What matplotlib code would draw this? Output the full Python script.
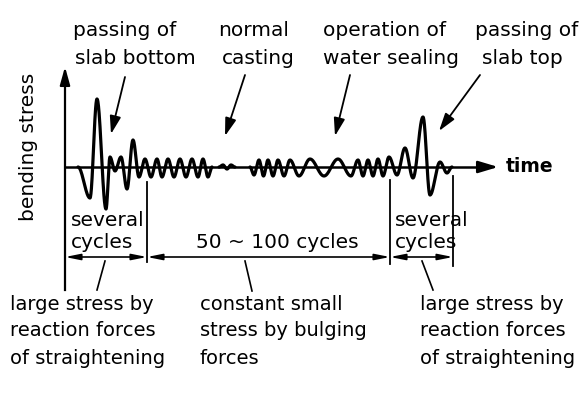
import numpy as np
import matplotlib
matplotlib.use("Agg")
import matplotlib.pyplot as plt

# ---------------- data (pixel-space schematic) ----------------
baseline_y = 167
# segment 1: passing of slab bottom + normal casting (extrema x, amplitude up)
seg1_x = [78, 90, 97, 106, 110, 115, 121, 127, 133, 139, 145, 151, 157, 162, 168,
          174, 180, 186, 192, 198, 203, 208, 212]
seg1_a = [0, -31, 68, -42, 10, -4, 10, -22, 27, -10, 8, -10, 8, -10, 8,
          -10, 8, -10, 8, -10, 8, -10, 0]
# break mark
brk_x = [219, 223, 227, 231, 235]
brk_a = [0, 2, -2, 2, 0]
# segment 2: normal casting, water sealing, passing of slab top
seg2_x = [250, 254, 259, 263.5, 268, 273, 278, 284, 290, 299, 310, 324, 338, 351,
          358, 363, 368, 373, 378, 383, 389, 397, 405, 413, 423, 430, 440, 447, 452]
seg2_a = [0, -8, 7, -9, 7, -9, 7, -9, 7, -9, 8, -9, 8, -9,
          7, -9, 7, -9, 8, -9, 10, -8, 19, -11, 50, -28, 5, -6, 0]

top_labels = [("passing of", "slab bottom"), ("normal", "casting"),
              ("operation of", "water sealing"), ("passing of", "slab top")]
bottom_labels = [("large stress by", "reaction forces", "of straightening"),
                 ("constant small", "stress by bulging", "forces"),
                 ("large stress by", "reaction forces", "of straightening")]
cycle_labels = [("several", "cycles"), "50 ~ 100 cycles", ("several", "cycles")]
axis_labels = ("bending stress", "time")

# ---------------- drawing helpers ----------------
def wave(xs, amps, n=30):
    px, py = [], []
    for i in range(len(xs) - 1):
        t = np.linspace(0, 1, n, endpoint=False)
        s = (1 - np.cos(np.pi * t)) / 2
        px.extend(xs[i] + (xs[i + 1] - xs[i]) * t)
        py.extend(amps[i] + (amps[i + 1] - amps[i]) * s)
    px.append(xs[-1]); py.append(amps[-1])
    return np.array(px), baseline_y - np.array(py)

fig = plt.figure(figsize=(5.81, 4.05), dpi=100)
ax = fig.add_axes([0, 0, 1, 1])
ax.set_xlim(0, 581)
ax.set_ylim(405, 0)
ax.axis("off")

FS = 14.5
FSB = 14
fam = ["DejaVu Sans"]
k = "black"

# axes
ax.plot([65, 65], [290, 75], color=k, lw=1.6)
ax.annotate("", xy=(65, 64), xytext=(65, 80),
            arrowprops=dict(arrowstyle="-|>,head_length=0.9,head_width=0.25",
                            color=k, lw=1.6, mutation_scale=12))
ax.plot([65, 490], [baseline_y, baseline_y], color=k, lw=1.8)
ax.annotate("", xy=(501, baseline_y), xytext=(485, baseline_y),
            arrowprops=dict(arrowstyle="-|>,head_length=1.0,head_width=0.3",
                            color=k, lw=1.8, mutation_scale=12))

# waveforms
for xs, a in [(seg1_x, seg1_a), (brk_x, brk_a), (seg2_x, seg2_a)]:
    px, py = wave(xs, a)
    ax.plot(px, py, color=k, lw=2.3, solid_capstyle="round", solid_joinstyle="round")

# vertical dimension lines
ax.plot([147, 147], [182, 262], color=k, lw=1.3)
ax.plot([390, 390], [180, 264], color=k, lw=1.3)
ax.plot([453, 453], [176, 266], color=k, lw=1.3)

# dimension arrows
dim_y = 257
for x0, x1 in [(65, 147), (147, 390), (390, 453)]:
    ax.annotate("", xy=(x1, dim_y), xytext=(x0, dim_y),
                arrowprops=dict(arrowstyle="<|-|>,head_length=0.9,head_width=0.18",
                                color=k, lw=1.2, mutation_scale=10,
                                shrinkA=0, shrinkB=0))

# slanted leader lines to bottom labels
ax.plot([105, 97], [261, 290], color=k, lw=1.2)
ax.plot([245, 252], [261, 291], color=k, lw=1.2)
ax.plot([422, 433], [261, 290], color=k, lw=1.2)

# top arrows
for tail, head in [((125, 77), (111, 134)), ((245, 75), (225, 136)),
                   ((350, 75), (335, 136)), ((480, 75), (439, 131))]:
    ax.annotate("", xy=head, xytext=tail,
                arrowprops=dict(arrowstyle="-|>,head_length=0.9,head_width=0.28",
                                color=k, lw=1.3, mutation_scale=12,
                                shrinkA=0, shrinkB=0))

# top labels
top_pos = [(73, 75), (218, 222), (323, 323), (475, 482)]
for (l1, l2), (x1, x2) in zip(top_labels, top_pos):
    ax.text(x1, 30, l1, fontsize=FS, family=fam, ha="left", va="center")
    ax.text(x2, 58, l2, fontsize=FS, family=fam, ha="left", va="center")

# cycle labels
ax.text(71, 220, cycle_labels[0][0], fontsize=FS, family=fam, ha="left", va="center")
ax.text(71, 242, cycle_labels[0][1], fontsize=FS, family=fam, ha="left", va="center")
ax.text(277, 242, cycle_labels[1], fontsize=FS, family=fam, ha="center", va="center")
ax.text(395, 220, cycle_labels[2][0], fontsize=FS, family=fam, ha="left", va="center")
ax.text(395, 242, cycle_labels[2][1], fontsize=FS, family=fam, ha="left", va="center")

# bottom labels
for lines, x in zip(bottom_labels, [10, 200, 420]):
    for j, s in enumerate(lines):
        ax.text(x, 304 + 27 * j, s, fontsize=FSB, family=fam, ha="left", va="center")

# axis labels
ax.text(29, 147, axis_labels[0], fontsize=FS, family=fam, rotation=90,
        ha="center", va="center")
ax.text(506, baseline_y, axis_labels[1], fontsize=13.5, family=fam,
        fontweight="bold", ha="left", va="center")

fig.savefig("out.png", dpi=100)
